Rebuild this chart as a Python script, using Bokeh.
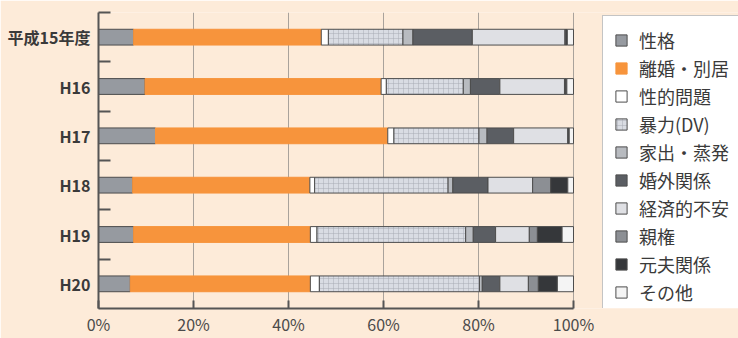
from bokeh.plotting import figure
from bokeh.models import FixedTicker, PrintfTickFormatter, ColumnDataSource, Legend, LegendItem
from bokeh.embed import file_html
from bokeh.resources import INLINE

years = ["平成15年度", "H16", "H17", "H18", "H19", "H20"]
causes = ["性格", "離婚・別居", "性的問題", "暴力(DV)", "家出・蒸発",
          "婚外関係", "経済的不安", "親権", "元夫関係", "その他"]

seikaku = [7.4, 9.8, 12.0, 7.2, 7.4, 6.7]
rikon = [39.5, 49.7, 48.9, 37.3, 37.2, 37.9]
seiteki = [1.5, 1.1, 1.3, 1.0, 1.4, 1.9]
dv = [15.7, 16.2, 17.9, 28.1, 31.3, 33.7]
iede = [2.1, 1.5, 1.7, 1.0, 1.6, 0.6]
kongai = [12.5, 6.2, 5.6, 7.4, 4.7, 3.7]
keizai = [19.5, 13.6, 11.4, 9.4, 7.1, 6.0]
shinken = [0.2, 0.2, 0.1, 3.8, 1.7, 2.1]
motoott = [0.3, 0.3, 0.2, 3.6, 5.2, 4.0]
sonota = [1.3, 1.4, 0.9, 1.2, 2.4, 3.4]

x_ticks = [0, 20, 40, 60, 80, 100]

colors = ["#969aa0", "#f7943c", "#ffffff", "#d9dce3", "#b8bbc0",
          "#5b5e63", "#dfe0e4", "#8c8f94", "#35373a", "#f4f4f4"]
line_colors = ["#4d4d4d", "#f7943c", "#4d4d4d", "#4d4d4d", "#4d4d4d",
               "#4d4d4d", "#4d4d4d", "#4d4d4d", "#4d4d4d", "#4d4d4d"]

FONT = "Noto Sans CJK JP"
BG = "#fdebd9"

LEFT = 98
PLOT_W = 475          # pixels spanned by 0..100 %
FRAME_W = 738 - LEFT  # frame extends under the legend area

n = len(years)
ypos = [n - 0.5 - i for i in range(n)]
series = [seikaku, rikon, seiteki, dv, iede, kongai, keizai, shinken, motoott, sonota]
data = {"y": ypos}
for name, vals in zip(causes, series):
    data[name] = vals
source = ColumnDataSource(data)

p = figure(width=738, height=338, x_range=(0, 100 * FRAME_W / PLOT_W), y_range=(0, n),
           output_backend="svg", toolbar_location=None,
           min_border_left=LEFT, min_border_right=0, min_border_top=12,
           min_border_bottom=0)
p.background_fill_color = BG
p.border_fill_color = BG
p.outline_line_color = None

rends = p.hbar_stack(causes, y="y", height=0.32, source=source,
                     fill_color=colors, line_color=line_colors, line_width=1)
rends[3].glyph.hatch_pattern = "+"
rends[3].glyph.hatch_color = "#a9adb4"
rends[3].glyph.hatch_scale = 5
rends[3].glyph.hatch_weight = 0.5

# x axis
p.xaxis.bounds = (0, 100)
p.xaxis.ticker = FixedTicker(ticks=x_ticks, minor_ticks=[])
p.xaxis.formatter = PrintfTickFormatter(format="%d%%")
p.xaxis.axis_line_width = 2
p.xaxis.axis_line_color = "#555555"
p.xaxis.major_tick_in = 8
p.xaxis.major_tick_out = 0
p.xaxis.major_tick_line_width = 2
p.xaxis.major_tick_line_color = "#555555"
p.xaxis.minor_tick_line_color = None
p.xaxis.major_label_standoff = 3
p.xaxis.major_label_text_font = FONT
p.xaxis.major_label_text_font_size = "16px"
p.xaxis.major_label_text_color = "#4a4a4a"

# y axis
p.yaxis.ticker = FixedTicker(ticks=ypos, minor_ticks=[i + 1 for i in range(n)])
p.yaxis.major_label_overrides = {y: lab for y, lab in zip(ypos, years)}
p.yaxis.axis_line_width = 2
p.yaxis.axis_line_color = "#555555"
p.yaxis.major_tick_line_color = None
p.yaxis.major_tick_in = 0
p.yaxis.major_tick_out = 0
p.yaxis.minor_tick_in = 12
p.yaxis.minor_tick_out = 0
p.yaxis.minor_tick_line_width = 2
p.yaxis.minor_tick_line_color = "#555555"
p.yaxis.major_label_standoff = 8
p.yaxis.major_label_text_font = FONT
p.yaxis.major_label_text_font_size = "16px"
p.yaxis.major_label_text_font_style = "bold"
p.yaxis.major_label_text_color = "#3a3a3a"

p.xgrid.ticker = FixedTicker(ticks=x_ticks, minor_ticks=[])
p.xgrid.grid_line_color = "#a9a29b"
p.xgrid.grid_line_width = 1
p.ygrid.grid_line_color = None

items = [LegendItem(label=c, renderers=[r]) for c, r in zip(causes, rends)]
lg = Legend(items=items, location=(504, -9))
lg.background_fill_color = "#ffffff"
lg.background_fill_alpha = 1
lg.border_line_color = "#8a8a8a"
lg.border_line_width = 1.5
lg.label_text_font = FONT
lg.label_text_font_size = "18px"
lg.label_text_color = "#3a3a3a"
lg.glyph_width = 14
lg.glyph_height = 14
lg.label_standoff = 11
lg.padding = 11
lg.spacing = 2
lg.label_height = 26
lg.margin = 0
p.add_layout(lg, "center")

open("out.html", "w").write(file_html(p, INLINE))
